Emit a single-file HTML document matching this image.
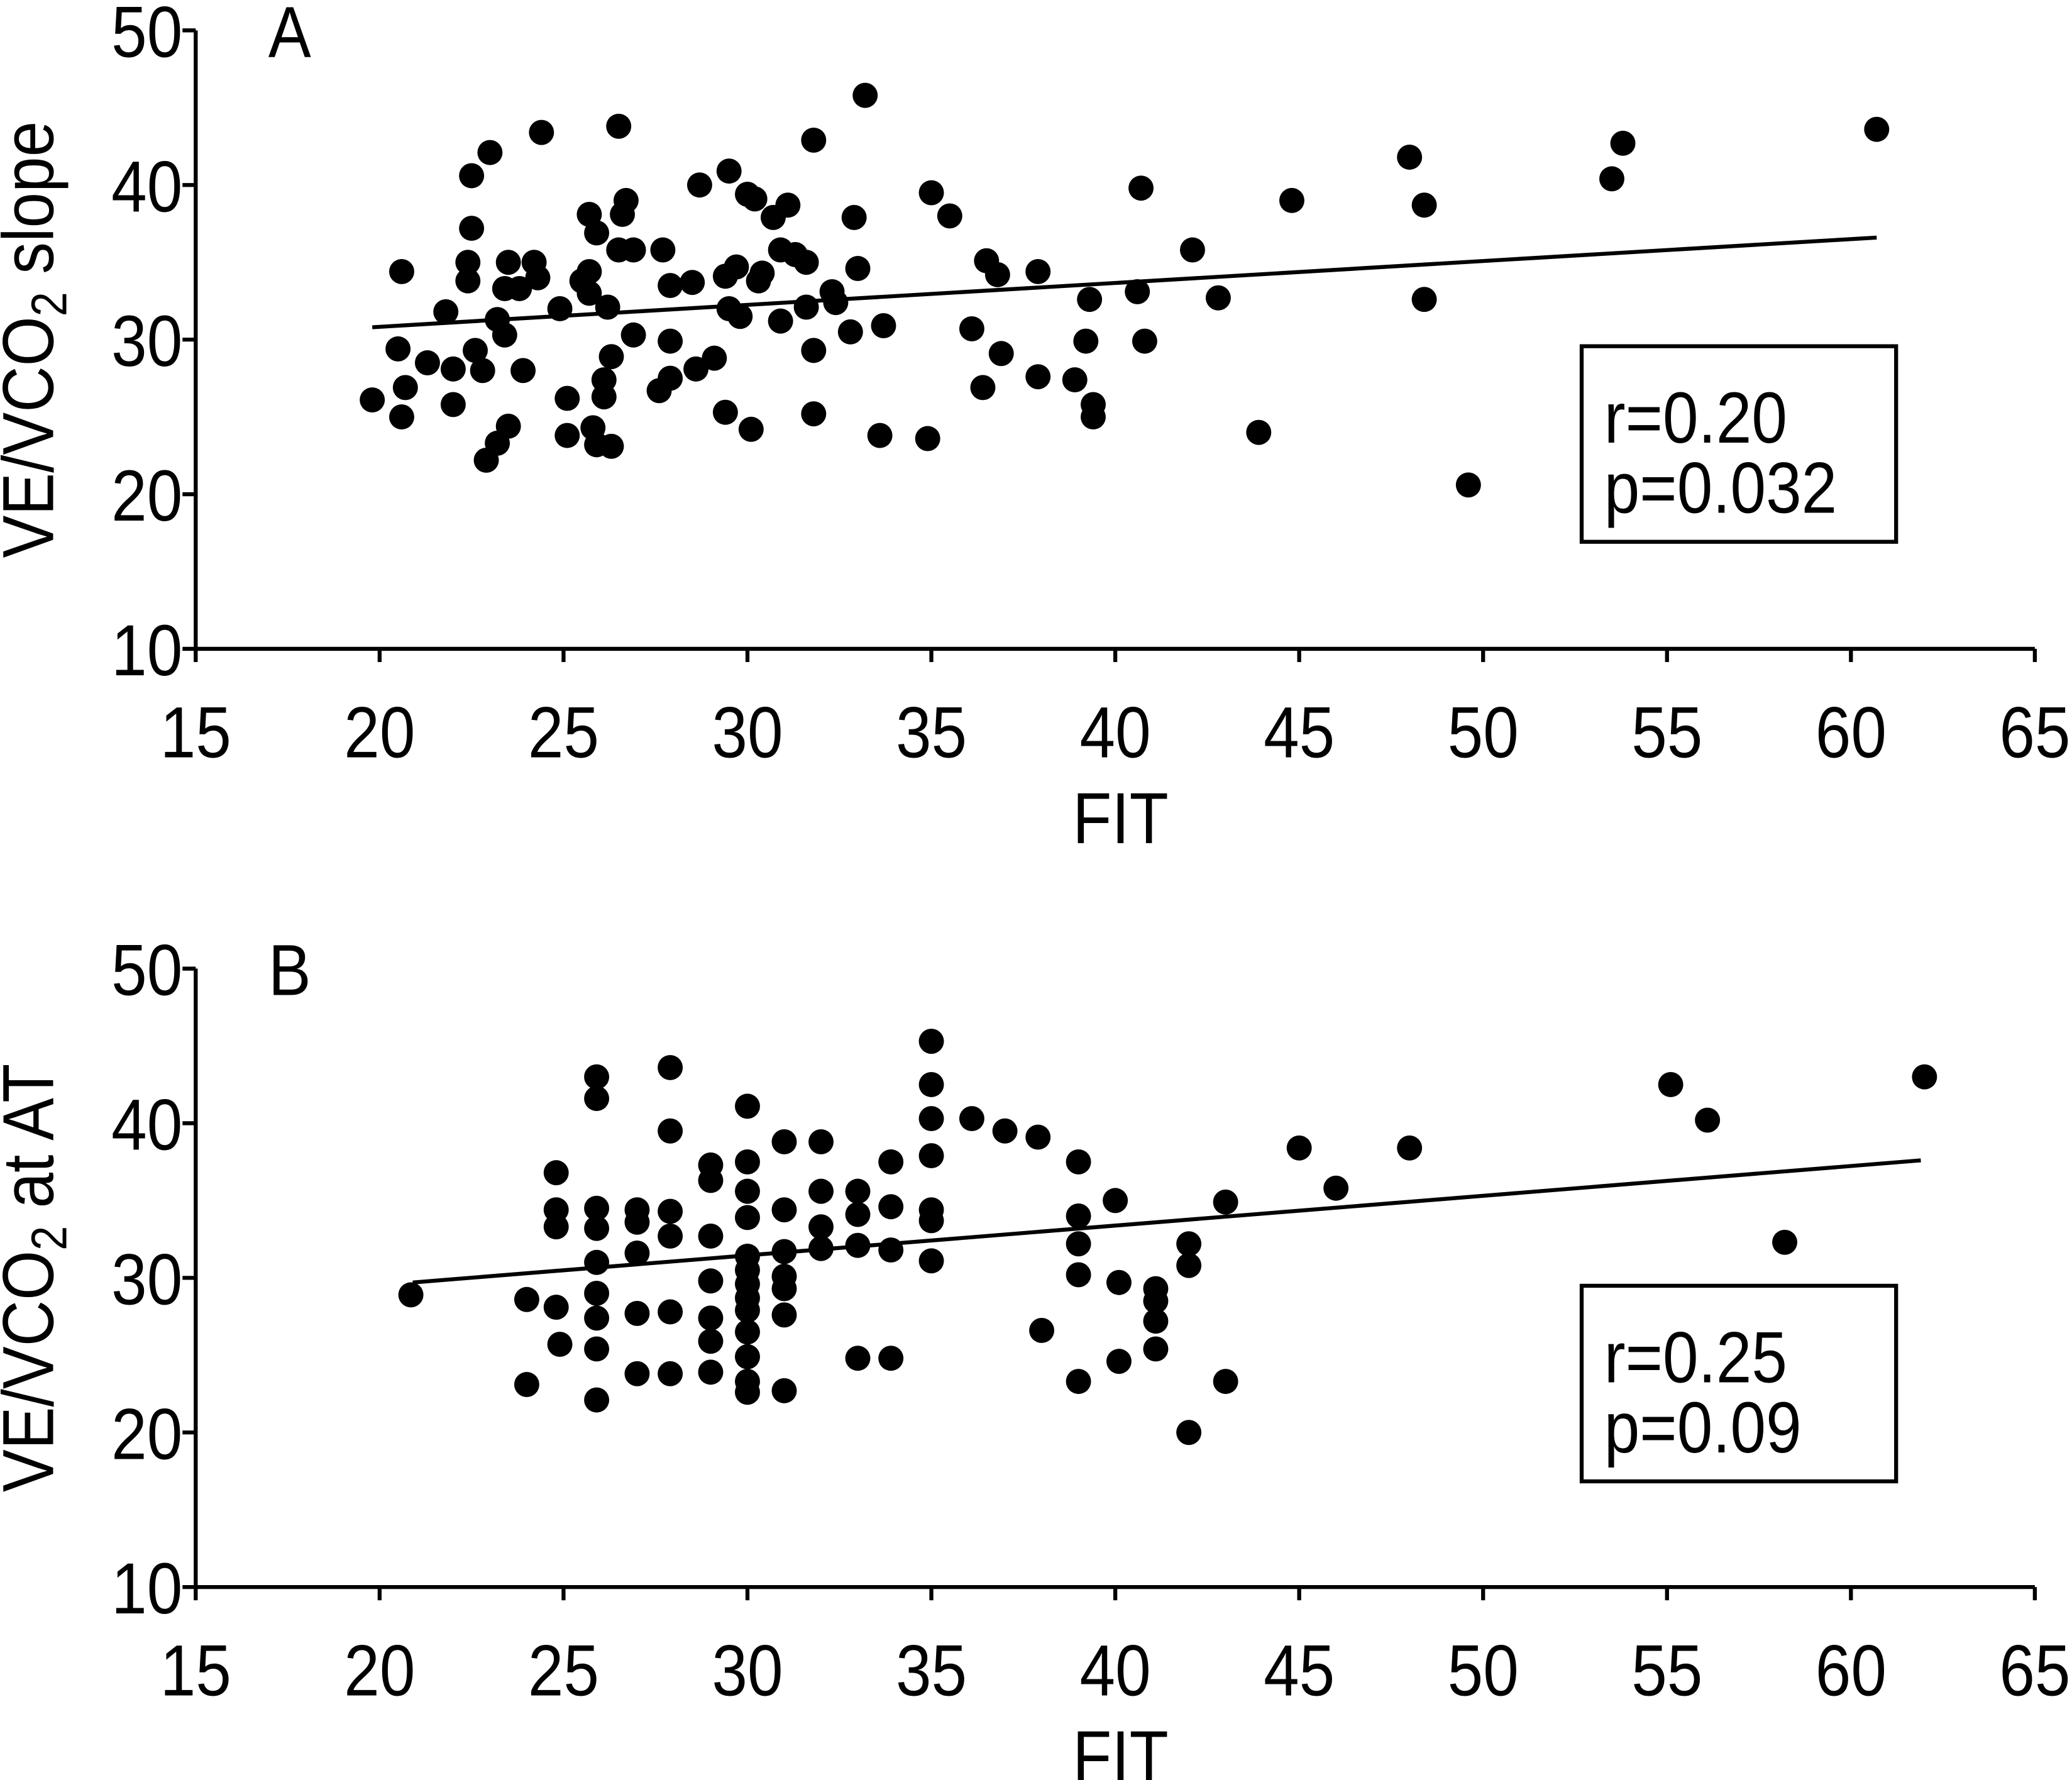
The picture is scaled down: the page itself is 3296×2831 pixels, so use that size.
<!DOCTYPE html>
<html><head><meta charset="utf-8"><style>html,body{margin:0;padding:0;background:#fff}svg{display:block}</style></head>
<body>
<svg id="chart" xmlns="http://www.w3.org/2000/svg" width="3296" height="2831" viewBox="0 0 1568 1347" font-family="'Liberation Sans',sans-serif"></svg>
<script>
const xTicks=[15,20,25,30,35,40,45,50,55,60,65];
const yTicks=[10,20,30,40,50];
const aFit=[19.8,20.6,20.5,20.7,20.6,21.3,21.8,22.0,22.0,22.5,23.0,22.5,22.4,22.4,22.6,22.8,22.9,23.2,23.2,23.4,23.4,23.5,23.5,23.8,23.9,24.2,24.3,24.4,24.9,25.1,25.1,25.7,25.5,25.7,25.7,25.8,25.9,25.9,26.1,26.1,26.2,26.3,26.3,26.5,26.6,26.7,26.5,26.9,26.9,27.6,27.7,27.9,27.9,27.9,28.5,28.6,28.7,29.1,29.4,29.5,29.4,29.5,29.7,29.8,30.0,30.2,30.1,30.3,30.4,30.7,30.9,30.9,31.1,31.3,31.6,31.6,31.8,31.8,31.8,32.3,32.4,32.8,32.9,33.0,33.2,33.6,33.7,34.9,35.0,35.5,36.1,36.4,36.5,36.8,36.9,37.9,37.9,38.9,39.2,39.3,39.4,39.4,40.6,40.7,40.8,42.1,42.8,43.9,44.8,48.0,48.4,48.4,49.6,53.5,53.8,60.7];
const aSlope=[26.1,34.4,29.4,26.9,25.0,28.5,31.8,28.1,25.8,40.6,42.1,37.2,35.0,33.8,29.3,28.0,22.2,23.3,31.3,30.3,33.3,24.4,35.0,33.3,28.0,35.0,34.0,43.4,32.0,26.2,23.8,38.1,33.8,34.4,33.0,24.3,36.9,23.2,27.4,26.3,32.1,28.9,23.1,43.8,38.1,39.0,35.8,35.8,30.3,26.7,35.8,33.5,29.9,27.5,33.7,28.1,40.0,28.8,25.3,40.9,34.1,32.0,34.7,31.5,39.4,39.1,24.2,33.8,34.3,37.9,31.2,35.8,38.7,35.5,35.0,32.1,42.9,29.3,25.2,33.1,32.4,30.5,37.9,34.6,45.8,23.8,30.9,23.6,39.5,38.0,30.7,26.9,35.1,34.2,29.1,27.6,34.4,27.4,29.9,32.6,25.8,25.0,33.1,39.8,29.9,35.8,32.7,24.0,39.0,41.8,38.7,32.6,20.6,40.4,42.7,43.6];
const aLine=[[19.8,30.8],[60.7,36.6]];
const bFit=[20.85,24.0,24.0,24.8,24.8,24.8,24.8,24.9,25.9,25.9,25.9,25.9,25.9,25.9,25.9,25.9,25.9,27.0,27.0,27.0,27.0,27.0,27.9,27.9,27.9,27.9,27.9,27.9,29.0,29.0,29.0,29.0,29.0,29.0,29.0,30.0,30.0,30.0,30.0,30.0,30.0,30.0,30.0,30.0,30.0,30.0,30.0,30.0,31.0,31.0,31.0,31.0,31.0,31.0,31.0,32.0,32.0,32.0,32.0,33.0,33.0,33.0,33.0,33.9,33.9,33.9,33.9,35.0,35.0,35.0,35.0,35.0,35.0,35.0,36.1,37.0,37.9,38.0,39.0,39.0,39.0,39.0,39.0,40.0,40.1,40.1,41.1,41.1,41.1,41.1,42.0,42.0,42.0,43.0,43.0,45.0,46.0,48.0,55.1,56.1,58.2,62.0];
const bAT=[28.9,28.6,23.1,36.8,34.4,33.3,28.1,25.7,43.0,41.6,34.5,33.2,31.0,29.0,27.4,25.4,22.1,34.4,33.6,31.6,27.7,23.8,43.6,39.5,34.3,32.7,27.8,23.8,37.3,36.3,32.7,29.8,27.4,25.9,23.9,41.1,37.5,35.6,33.9,31.4,30.5,29.6,28.7,27.9,26.5,24.9,23.3,22.6,38.8,34.4,31.7,30.1,29.3,27.6,22.7,38.8,35.6,33.3,31.9,35.6,34.1,32.1,24.8,37.5,34.6,31.8,24.8,45.3,42.5,40.3,37.9,34.4,33.7,31.1,40.3,39.5,39.1,26.6,37.5,34.0,32.2,30.2,23.3,35.0,29.7,24.6,29.3,28.5,27.2,25.4,32.2,30.8,20.0,34.9,23.3,38.4,35.8,38.4,42.5,40.2,32.3,43.0];
const bLine=[[20.9,29.7],[61.9,37.6]];

const NS='http://www.w3.org/2000/svg';
const svg=document.getElementById('chart');
const FS=55, SX=0.88;
function mk(tag,attrs,parent,text){const e=document.createElementNS(NS,tag);for(const k in attrs)e.setAttribute(k,attrs[k]);if(text!==undefined)e.textContent=text;(parent||svg).appendChild(e);return e;}
function txt(parent,x,y,anchor,str,rot){
  const tr=rot?`translate(${x},${y}) rotate(-90) scale(${SX},1)`:`translate(${x},${y}) scale(${SX},1)`;
  return mk('text',{x:0,y:0,'text-anchor':anchor,'font-size':FS,transform:tr},parent,str);
}
const X0=148,X1=1540;
function sx(v){return X0+(v-15)*(X1-X0)/50;}
function panel(id,base,top,fit,vals,line,label,ytitle2,r,p,boxY){
  const g=mk('g',{});
  
  
  const sy=v=>base-(v-10)*(base-top)/40;
  const ax=mk('path',{d:`M${X0},${top} L${X0},${base} L${X1},${base}`,stroke:'#000','stroke-width':3,fill:'none'},g);
  
  
  yTicks.forEach(t=>{const y=sy(t);
    mk('line',{x1:X0-10,x2:X0,y1:y,y2:y,stroke:'#000','stroke-width':3},g);
    const tl=txt(g,X0-10,y+20,'end',String(t));
    
    
  });
  xTicks.forEach(t=>{const x=sx(t);
    mk('line',{x1:x,x2:x,y1:base,y2:base+10,stroke:'#000','stroke-width':3},g);
    const tl=txt(g,x,base+82,'middle',String(t));
    
    
  });
  const xt=txt(g,848,base+147,'middle','FIT');
  
  
  const cy=(base+top)/2;
  const yt=txt(g,40,cy,'middle','',true);
  
  
  mk('tspan',{},yt,'VE/VCO');
  mk('tspan',{'font-size':38,dy:10},yt,'2');
  mk('tspan',{dy:-10},yt,ytitle2);
  const pl=txt(g,203,top+20,'start',label);
  
  
  for(let i=0;i<fit.length;i++){
    const c=mk('circle',{cx:sx(fit[i]),cy:sy(vals[i]),r:9.5,fill:'#000'},g);
    
    
  }
  const rl=mk('line',{x1:sx(line[0][0]),y1:sy(line[0][1]),x2:sx(line[1][0]),y2:sy(line[1][1]),stroke:'#000','stroke-width':3},g);
  
  
  const box=mk('rect',{x:1197,y:boxY,width:238,height:148,fill:'#fff',stroke:'#000','stroke-width':3},g);
  
  
  const rt=txt(g,1214,boxY+73,'start',r);
  
  
  const pt=txt(g,1214,boxY+126,'start',p);
  
  
}
panel('a',491,23,aFit,aSlope,aLine,'A',' slope','r=0.20','p=0.032',262);
panel('b',1201,733,bFit,bAT,bLine,'B',' at AT','r=0.25','p=0.09',973);
</script>
</body></html>
